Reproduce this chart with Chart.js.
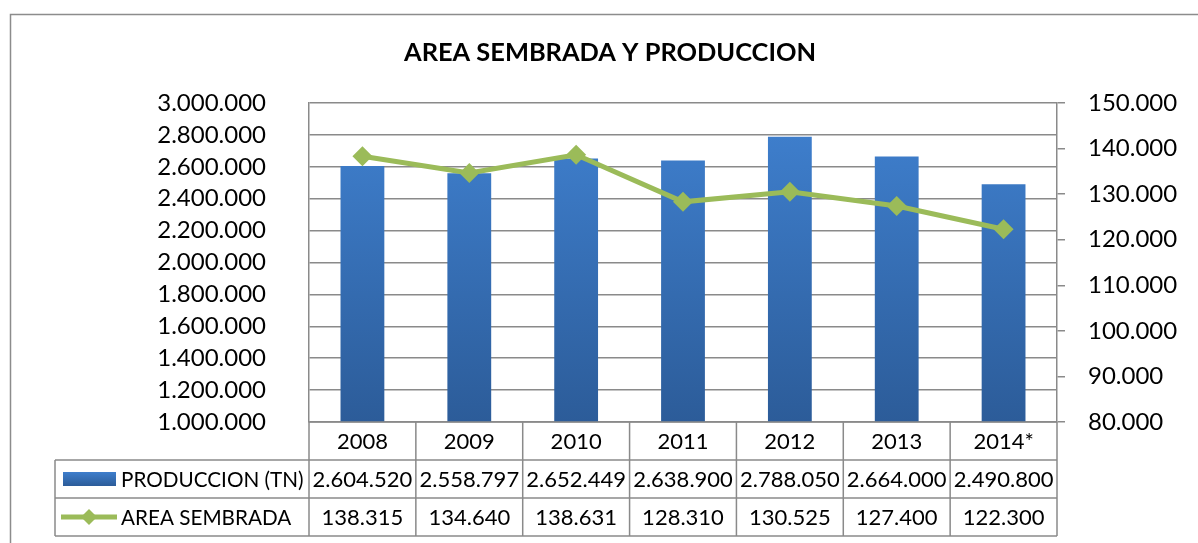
<!DOCTYPE html>
<html>
<head>
<meta charset="utf-8">
<script src="https://cdn.jsdelivr.net/npm/chart.js@4.4.1/dist/chart.umd.min.js"></script>
<style>
html,body{margin:0;padding:0;background:#fff;}
#wrap{width:1198px;height:543px;position:relative;}
</style>
</head>
<body>
<div id="wrap"><canvas id="c" width="1198" height="543"></canvas></div>
<script>
const categories = ['2008','2009','2010','2011','2012','2013','2014*'];
const produccion = [2604520, 2558797, 2652449, 2638900, 2788050, 2664000, 2490800];
const areaSembrada = [138315, 134640, 138631, 128310, 130525, 127400, 122300];
const seriesNames = ['PRODUCCION (TN)', 'AREA SEMBRADA'];
const chartTitle = 'AREA SEMBRADA Y PRODUCCION';

const FONT = 'Lato, "Open Sans", sans-serif';
const GRID = '#8a8a8a';
const GREEN = '#9BBB59';

function fmt(v){
  const s = Math.round(v).toString();
  return s.replace(/\B(?=(\d{3})+(?!\d))/g, '.');
}
function barGradient(ctx, top, bottom){
  const g = ctx.createLinearGradient(0, top, 0, bottom);
  g.addColorStop(0, '#3E7ECC');
  g.addColorStop(1, '#2C5C99');
  return g;
}

const tablePlugin = {
  id: 'dataTable',
  afterDraw(chart){
    const ctx = chart.ctx;
    const ca = chart.chartArea;
    const xs = chart.scales.x;
    const n = categories.length;
    const colW = (ca.right - ca.left) / n;
    const rowH = 38;
    const y0 = ca.bottom, y1 = y0 + rowH, y2 = y1 + rowH, y3 = y2 + rowH;
    const legL = 55;
    ctx.save();
    // outer border
    ctx.strokeStyle = '#8c8c8c';
    ctx.lineWidth = 1.5;
    ctx.strokeRect(10.5, 14.5, 1250, 600);
    // title
    ctx.fillStyle = '#000';
    ctx.font = 'bold 25.4px ' + FONT;
    ctx.textAlign = 'center';
    ctx.textBaseline = 'middle';
    ctx.fillText(chartTitle, 610, 53);
    // table lines
    ctx.strokeStyle = GRID;
    ctx.lineWidth = 1.5;
    ctx.beginPath();
    ctx.moveTo(ca.left, y0); ctx.lineTo(ca.right, y0);
    [y1, y2, y3].forEach(y => { ctx.moveTo(legL, y); ctx.lineTo(ca.right, y); });
    for (let i = 0; i <= n; i++) {
      const x = ca.left + i * colW;
      ctx.moveTo(x, y0); ctx.lineTo(x, y3);
    }
    ctx.moveTo(legL, y1); ctx.lineTo(legL, y3);
    ctx.stroke();
    // texts
    ctx.fillStyle = '#000';
    ctx.font = '22px ' + FONT;
    ctx.textAlign = 'center';
    ctx.textBaseline = 'middle';
    for (let i = 0; i < n; i++) {
      const cx = xs.getPixelForValue(i);
      ctx.fillText(categories[i], cx, (y0 + y1) / 2 + 1);
      ctx.fillText(fmt(produccion[i]), cx, (y1 + y2) / 2 + 1);
      ctx.fillText(fmt(areaSembrada[i]), cx, (y2 + y3) / 2 + 1);
    }
    // legend keys
    ctx.fillStyle = barGradient(ctx, y1 + 12, y1 + 26);
    ctx.fillRect(63, y1 + 12, 53, 14);
    const ly = (y2 + y3) / 2;
    ctx.strokeStyle = GREEN;
    ctx.lineWidth = 5;
    ctx.beginPath(); ctx.moveTo(61, ly); ctx.lineTo(117, ly); ctx.stroke();
    ctx.fillStyle = GREEN;
    ctx.beginPath();
    const dx = 89, r = 8;
    ctx.moveTo(dx, ly - r); ctx.lineTo(dx + r, ly); ctx.lineTo(dx, ly + r); ctx.lineTo(dx - r, ly); ctx.closePath();
    ctx.fill();
    ctx.fillStyle = '#000';
    ctx.textAlign = 'left';
    ctx.font = '20.7px ' + FONT;
    ctx.fillText(seriesNames[0], 121, (y1 + y2) / 2 + 1);
    ctx.fillText(seriesNames[1], 121, (y2 + y3) / 2 + 1);
    ctx.restore();
  }
};

new Chart(document.getElementById('c'), {
  type: 'bar',
  data: {
    labels: categories,
    datasets: [
      {
        type: 'line',
        label: seriesNames[1],
        data: areaSembrada,
        yAxisID: 'y1',
        borderColor: GREEN,
        backgroundColor: GREEN,
        borderWidth: 5,
        pointStyle: 'rectRot',
        pointRadius: 10,
        pointBorderWidth: 0,
        tension: 0,
        order: 0
      },
      {
        type: 'bar',
        label: seriesNames[0],
        data: produccion,
        yAxisID: 'y',
        backgroundColor: (c) => {
          const ca = c.chart.chartArea;
          if (!ca) return '#3B78C2';
          return barGradient(c.chart.ctx, ca.top + 30, ca.bottom);
        },
        borderWidth: 0,
        barPercentage: 0.82,
        categoryPercentage: 0.5,
        order: 1
      }
    ]
  },
  options: {
    responsive: false,
    animation: false,
    devicePixelRatio: 1,
    layout: { padding: { top: 103, left: 0, right: 0, bottom: 0 } },
    plugins: {
      legend: { display: false },
      tooltip: { enabled: false },
      title: { display: false }
    },
    scales: {
      x: {
        grid: { display: false },
        border: { display: false },
        ticks: { display: false },
        afterFit(s){ s.height = 121; }
      },
      y: {
        position: 'left',
        min: 1000000,
        max: 3000000,
        ticks: {
          stepSize: 200000,
          color: '#000',
          padding: 43,
          font: { family: FONT, size: 24 },
          callback: (v) => fmt(v)
        },
        grid: { color: GRID, lineWidth: 1.5, drawTicks: false },
        border: { display: true, color: GRID, width: 1.5 },
        afterFit(s){ s.width = 309; }
      },
      y1: {
        position: 'right',
        min: 80000,
        max: 150000,
        ticks: {
          stepSize: 10000,
          color: '#000',
          padding: 23,
          font: { family: FONT, size: 24 },
          callback: (v) => fmt(v)
        },
        grid: { drawOnChartArea: false, color: GRID, lineWidth: 1.5, drawTicks: true, tickLength: 8 },
        border: { display: true, color: GRID, width: 1.5 },
        afterFit(s){ s.width = 141; }
      }
    }
  },
  plugins: [tablePlugin]
});
</script>
</body>
</html>
